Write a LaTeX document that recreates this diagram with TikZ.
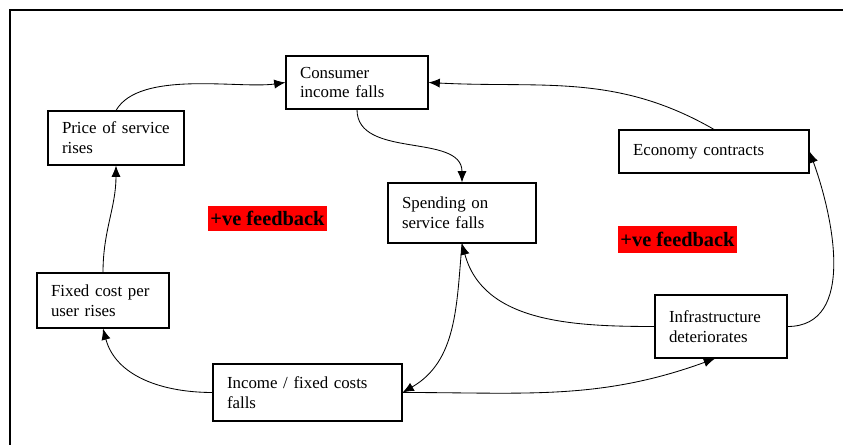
\documentclass[tikz,border=0pt]{standalone}
\usepackage{fontspec}
\setmainfont{Liberation Serif}
\usetikzlibrary{arrows.meta}

\begin{document}
\begin{tikzpicture}[>={Latex[length=8pt,width=6.5pt]},
    box/.style={rectangle, draw, line width=0.8pt, align=left, inner xsep=0.35cm, font=\fontsize{12}{14.2}\selectfont},
    flow/.style={->, line width=0.6pt},
    feedback/.style={rectangle, fill=red, inner sep=0pt, font=\fontsize{14.5}{16}\selectfont\bfseries}]

    \useasboundingbox (0,0) rectangle (21.075,11.125);
    \draw [line width=0.8pt] (0.25,0) -- (0.25,10.875) -- (21.075,10.875);

    \node (consumer) [box, text width=2.85cm, minimum height=1.325cm] at (8.925,9.0625) {Consumer\\income falls};
    \node (price) [box, text width=2.7cm, minimum height=1.35cm] at (2.9,7.675) {Price of service\\rises};
    \node (spending) [box, text width=3cm, minimum height=1.5cm] at (11.55,5.8) {Spending on\\service falls};
    \node (economy) [box, text width=4.05cm, minimum height=1.075cm] at (17.85,7.3375) {Economy contracts};
    \node (fixed) [box, text width=2.6cm, minimum height=1.375cm] at (2.575,3.6125) {Fixed cost per\\user rises};
    \node (income) [box, text width=4.025cm, minimum height=1.425cm] at (7.6875,1.3125) {Income / fixed costs\\falls};
    \node (infra) [box, text width=2.6cm, minimum height=1.575cm] at (18.025,2.9625) {Infrastructure\\deteriorates};

    \node (fbleft) [feedback, minimum width=2.975cm, minimum height=0.625cm] at (6.6875,5.6625) {+ve feedback};
    \node (fbright) [feedback, minimum width=2.975cm, minimum height=0.675cm] at (16.9375,5.1375) {+ve feedback};

    \draw [flow] (price.north) to [out=60, in=188, looseness=0.7] (consumer.west);
    \draw [flow] (consumer.south) to [out=-90, in=90] (spending.north);
    \draw [flow] (economy.north) to [out=150, in=-3] (consumer.east);
    \draw [flow] (infra.east) to [out=0, in=-70] (economy.east);
    \draw [flow] (infra.west) to [out=180, in=-75] (spending.south);
    \draw [flow] (spending.south) to [out=-95, in=30] (income.east);
    \draw [flow] (income.east) to [out=0, in=-160] ([xshift=-0.15cm]infra.south);
    \draw [flow] (income.west) to [out=180, in=-75] (fixed.south);
    \draw [flow] (fixed.north) to [out=90, in=-90] (price.south);
\end{tikzpicture}
\end{document}
